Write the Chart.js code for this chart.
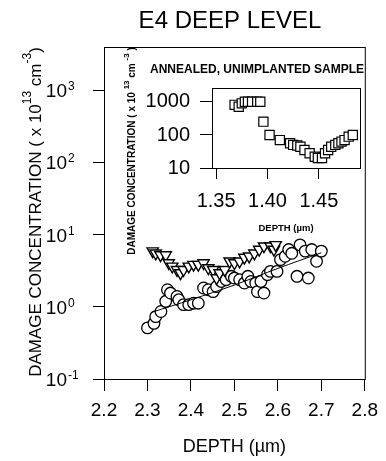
<!DOCTYPE html>
<html lang="en">
<head>
    <meta charset="UTF-8">
    <title>E4 Deep Level</title>
    <style>
        body {
            margin: 0;
            padding: 0;
            background-color: #ffffff;
        }
        #wrap {
            position: relative;
            width: 386px;
            height: 461px;
        }
        #mainChart {
            position: absolute;
            left: 0;
            top: 0;
        }
        #insetChart {
            position: absolute;
            left: 110px;
            top: 45px;
        }
    </style>
</head>
<body>
    <div id="wrap">
        <canvas id="mainChart" width="386" height="461"></canvas>
        <canvas id="insetChart" width="264" height="215"></canvas>
    </div>

    <script src="https://cdn.jsdelivr.net/npm/chart.js"></script>
    <script>
        // Main plot: circles (with fit line) and down triangles
        const circleX = [2.300, 2.315, 2.319, 2.331, 2.342, 2.346, 2.353, 2.368, 2.372, 2.383, 2.395, 2.406, 2.417, 2.429,
                         2.440, 2.451, 2.459, 2.470, 2.481, 2.493, 2.500, 2.512, 2.523, 2.531, 2.538, 2.549, 2.553, 2.561,
                         2.568, 2.576, 2.583, 2.598, 2.606, 2.617, 2.625, 2.632, 2.644, 2.651, 2.663, 2.670, 2.678, 2.689, 2.700];
        const circleY = [0.51, 0.59, 0.73, 0.86, 1.19, 1.72, 1.55, 1.39, 1.25, 1.07, 1.07, 1.12, 1.12, 1.82,
                         1.72, 1.62, 1.90, 2.24, 2.37, 2.64, 2.50, 2.37, 2.13, 2.64, 2.24, 2.13, 1.62, 2.24,
                         1.55, 2.78, 3.09, 3.09, 4.5, 5.0, 6.2, 5.5, 2.64, 7.2, 5.9, 2.5, 6.2, 4.26, 5.9];
        const fitX = [2.31, 2.40, 2.50, 2.60, 2.70];
        const fitY = [0.84, 1.25, 2.0, 3.4, 5.6];
        const triX = [2.312, 2.319, 2.330, 2.342, 2.349, 2.357, 2.368, 2.376, 2.383, 2.395, 2.406, 2.417, 2.429, 2.440,
                      2.451, 2.459, 2.466, 2.478, 2.489, 2.500, 2.512, 2.523, 2.534, 2.546, 2.557, 2.568, 2.583, 2.591, 2.595];
        const triY = [5.9, 5.5, 5.2, 5.2, 4.04, 3.63, 3.25, 2.93, 3.25, 3.63, 3.83, 3.83, 4.04, 3.44,
                      3.25, 2.5, 2.93, 3.25, 4.26, 4.04, 4.26, 4.8, 5.0, 5.5, 6.2, 6.9, 6.9, 6.2, 7.2];
        const xTicks = [2.2, 2.3, 2.4, 2.5, 2.6, 2.7, 2.8];
        const yTickExps = [-1, 0, 1, 2, 3];

        // Inset: annealed, unimplanted sample
        const sqX = [1.368, 1.372, 1.375, 1.378, 1.381, 1.385, 1.390, 1.393, 1.396, 1.402, 1.412, 1.422, 1.425, 1.429, 1.432,
                     1.436, 1.441, 1.446, 1.449, 1.453, 1.456, 1.459, 1.462, 1.466, 1.469, 1.472, 1.475, 1.479, 1.483];
        const sqY = [818, 720, 910, 1020, 1020, 1020, 1020, 1020, 253, 100, 70, 56, 50, 48, 44,
                     35, 28, 22, 20, 20, 28, 35, 44, 50, 56, 63, 70, 89, 100];
        const insetXTicks = [1.35, 1.40, 1.45];
        const insetYTicks = [10, 100, 1000];

        const titleText = 'E4 DEEP LEVEL';
        const insetTitle = 'ANNEALED, UNIMPLANTED SAMPLE';
        const yTitleParts = [['DAMAGE CONCENTRATION ( x 10', false], ['13', true], [' cm', false], ['-3', true], [')', false]];
        const insetYTitleParts = [['DAMAGE CONCENTRATION ( x 10 ', false], ['13', true], [' cm ', false], ['-3', true], [' )', false]];

        const FONT = '"Liberation Sans", Arial, sans-serif';

        function pts(xs, ys) {
            return xs.map((x, i) => ({ x: x, y: ys[i] }));
        }

        // rotated axis title with raised exponents
        function drawRotatedTitle(ctx, cx, cy, parts, size, supSize, weight) {
            ctx.save();
            ctx.translate(cx, cy);
            ctx.rotate(-Math.PI / 2);
            ctx.fillStyle = '#000';
            ctx.textAlign = 'left';
            ctx.textBaseline = 'middle';
            let total = 0;
            const widths = parts.map(p => {
                ctx.font = weight + ' ' + (p[1] ? supSize : size) + 'px ' + FONT;
                const w = ctx.measureText(p[0]).width;
                total += w;
                return w;
            });
            let x = -total / 2;
            parts.forEach((p, i) => {
                ctx.font = weight + ' ' + (p[1] ? supSize : size) + 'px ' + FONT;
                ctx.fillText(p[0], x, p[1] ? -size * 0.5 : 0);
                x += widths[i];
            });
            ctx.restore();
        }

        const mainDecor = {
            id: 'mainDecor',
            afterDraw(chart) {
                const ctx = chart.ctx;
                const a = chart.chartArea;
                const y = chart.scales.y;
                ctx.save();
                ctx.strokeStyle = '#000';
                ctx.lineWidth = 1;
                ctx.strokeRect(a.left + 0.5, a.top + 0.5, a.right - a.left, a.bottom - a.top);

                ctx.fillStyle = '#000';
                ctx.font = '24px ' + FONT;
                ctx.textAlign = 'center';
                ctx.textBaseline = 'middle';
                ctx.fillText(titleText, 230, 21);

                // 10^n tick labels
                yTickExps.forEach(e => {
                    const py = y.getPixelForValue(Math.pow(10, e));
                    ctx.font = '19px ' + FONT;
                    ctx.textAlign = 'right';
                    ctx.textBaseline = 'alphabetic';
                    ctx.fillText('10', 67, py + 7);
                    ctx.font = '12px ' + FONT;
                    ctx.textAlign = 'left';
                    ctx.fillText(String(e), 68, py);
                });
                ctx.restore();

                drawRotatedTitle(ctx, 36, 212, yTitleParts, 17, 12, 'normal');
            }
        };

        const insetDecor = {
            id: 'insetDecor',
            afterDraw(chart) {
                const ctx = chart.ctx;
                const a = chart.chartArea;
                ctx.save();
                ctx.strokeStyle = '#000';
                ctx.lineWidth = 1;
                ctx.strokeRect(a.left + 0.5, a.top + 0.5, a.right - a.left, a.bottom - a.top);
                ctx.fillStyle = '#000';
                ctx.font = 'bold 12px ' + FONT;
                ctx.textAlign = 'center';
                ctx.textBaseline = 'middle';
                ctx.fillText(insetTitle, 147, 25);
                ctx.restore();

                drawRotatedTitle(ctx, 22, 106, insetYTitleParts, 10, 8, 'bold');
            }
        };

        const axisGrid = (len) => ({ drawOnChartArea: false, color: '#000', tickColor: '#000', tickLength: len });

        new Chart(document.getElementById('mainChart').getContext('2d'), {
            type: 'scatter',
            data: {
                datasets: [
                    {
                        label: 'fit',
                        data: pts(fitX, fitY),
                        showLine: true,
                        tension: 0.3,
                        pointRadius: 0,
                        borderColor: '#000',
                        borderWidth: 1,
                        order: 0
                    },
                    {
                        label: 'triangles',
                        data: pts(triX, triY),
                        pointStyle: 'triangle',
                        rotation: 180,
                        pointRadius: 6.5,
                        backgroundColor: '#fff',
                        borderColor: '#000',
                        borderWidth: 1.4,
                        order: 1
                    },
                    {
                        label: 'circles',
                        data: pts(circleX, circleY),
                        pointStyle: 'circle',
                        pointRadius: 5.8,
                        backgroundColor: '#fff',
                        borderColor: '#000',
                        borderWidth: 1.3,
                        order: 2
                    }
                ]
            },
            options: {
                responsive: false,
                animation: false,
                layout: { padding: { top: 47, right: 17, left: 0, bottom: 0 } },
                plugins: { legend: { display: false }, tooltip: { enabled: false } },
                scales: {
                    x: {
                        type: 'linear',
                        min: 2.2,
                        max: 2.8,
                        afterBuildTicks: s => { s.ticks = xTicks.map(v => ({ value: v })); },
                        afterFit: s => { s.height = 82; },
                        grid: axisGrid(12),
                        border: { color: '#000', width: 1 },
                        ticks: {
                            color: '#000',
                            font: { size: 19, family: FONT },
                            padding: 8,
                            maxRotation: 0,
                            callback: v => v.toFixed(1)
                        },
                        title: {
                            display: true,
                            text: 'DEPTH (µm)',
                            color: '#000',
                            font: { size: 18, family: FONT },
                            padding: { top: 0, bottom: 3 }
                        }
                    },
                    y: {
                        type: 'logarithmic',
                        min: 0.1,
                        max: 3950,
                        afterBuildTicks: s => { s.ticks = yTickExps.map(e => ({ value: Math.pow(10, e) })); },
                        afterFit: s => { s.width = 104; },
                        grid: axisGrid(11),
                        border: { color: '#000', width: 1 },
                        ticks: { display: false }
                    }
                }
            },
            plugins: [mainDecor]
        });

        new Chart(document.getElementById('insetChart').getContext('2d'), {
            type: 'scatter',
            data: {
                datasets: [{
                    label: 'annealed',
                    data: pts(sqX, sqY),
                    pointStyle: 'rect',
                    pointRadius: 6.5,
                    backgroundColor: '#fff',
                    borderColor: '#000',
                    borderWidth: 1.2
                }]
            },
            options: {
                responsive: false,
                animation: false,
                layout: { padding: { top: 43, right: 14, left: 0, bottom: 0 } },
                plugins: { legend: { display: false }, tooltip: { enabled: false } },
                scales: {
                    x: {
                        type: 'linear',
                        min: 1.346,
                        max: 1.49,
                        afterBuildTicks: s => { s.ticks = insetXTicks.map(v => ({ value: v })); },
                        afterFit: s => { s.height = 92; },
                        grid: axisGrid(11),
                        border: { color: '#000', width: 1 },
                        ticks: {
                            color: '#000',
                            font: { size: 20, family: FONT },
                            padding: 10,
                            maxRotation: 0,
                            callback: v => v.toFixed(2)
                        },
                        title: {
                            display: true,
                            text: 'DEPTH (µm)',
                            color: '#000',
                            font: { size: 9.5, weight: 'bold', family: FONT },
                            padding: { top: 0, bottom: 26 }
                        }
                    },
                    y: {
                        type: 'logarithmic',
                        min: 10,
                        max: 2650,
                        afterBuildTicks: s => { s.ticks = insetYTicks.map(v => ({ value: v })); },
                        afterFit: s => { s.width = 102; },
                        grid: axisGrid(12),
                        border: { color: '#000', width: 1 },
                        ticks: {
                            color: '#000',
                            font: { size: 20, family: FONT },
                            padding: 10,
                            callback: v => String(v)
                        }
                    }
                }
            },
            plugins: [insetDecor]
        });
    </script>
</body>
</html>
